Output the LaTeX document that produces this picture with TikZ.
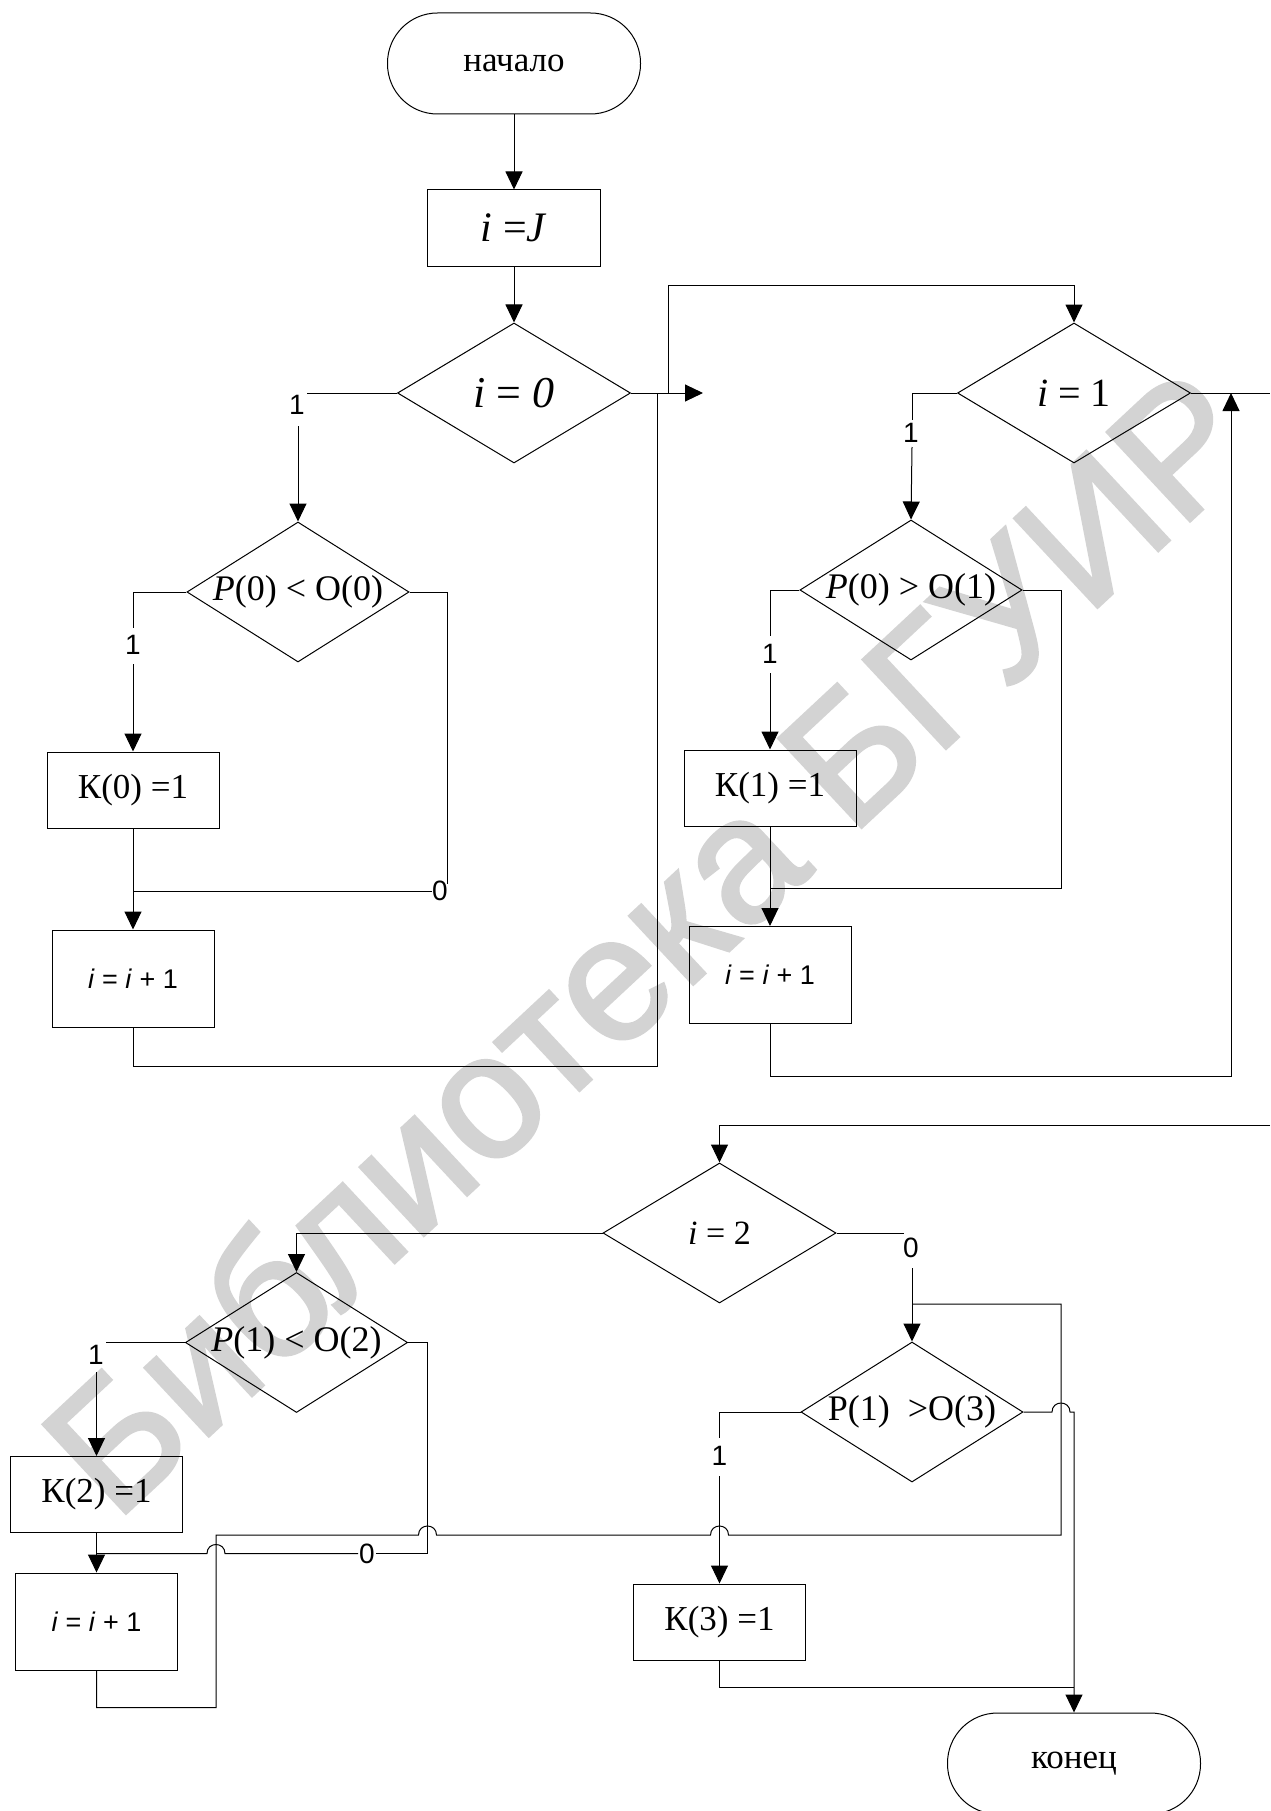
\documentclass[tikz,border=0pt]{standalone}
\usepackage{fontspec}
\setmainfont{Liberation Serif}
\newfontfamily\sansf{Liberation Sans}
\newfontfamily\wmfont[FakeBold=2]{Liberation Sans}
\usetikzlibrary{arrows.meta,shapes.geometric}
\definecolor{wmgray}{RGB}{211,211,211}
\begin{document}
\begin{tikzpicture}[x=1pt,y=-1pt,line width=1pt,
  flow/.style={-{Triangle[length=18pt,width=17pt]}},
  term/.style={draw,rounded corners=50pt,minimum width=253pt,minimum height=101pt,inner sep=0pt,font=\fontsize{35}{40}\selectfont},
  kbox/.style={draw,minimum width=172pt,minimum height=76pt,inner sep=0pt,font=\fontsize{35}{40}\selectfont},
  ibox/.style={draw,minimum width=162pt,minimum height=97pt,inner sep=0pt,font=\sansf\fontsize{27}{32}\selectfont},
  bigdia/.style={draw,diamond,aspect=1.66,minimum width=233pt,minimum height=140pt,inner sep=0pt},
  cdia/.style={draw,diamond,aspect=1.59,minimum width=222pt,minimum height=140pt,inner sep=0pt,font=\fontsize{36}{40}\selectfont},
  lbl/.style={font=\sansf\fontsize{28}{32}\selectfont,inner sep=0pt},
]
\useasboundingbox (0,0) rectangle (1270,1811);
% watermark
\node[font=\wmfont\fontsize{176}{190}\selectfont,text=wmgray,rotate=43,inner sep=0pt] (wm) at (647,940) {Библиотека БГУИР};

% nodes
\node[term] (start) at (514,63.5) {начало};
\node[draw,minimum width=173pt,minimum height=76pt,inner sep=0pt,font=\fontsize{42}{46}\selectfont] (setJ) at (514,228) {\textit{i} =\textit{J}};
\node[bigdia,font=\fontsize{44}{48}\selectfont] (d0) at (514,393) {\textit{i} = \textit{0}};
\node[cdia] (c0) at (298,592) {\textit{P}(0) < O(0)};
\node[kbox] (k0) at (133,790) {К(0) =1};
\node[ibox] (inc0) at (133,978.5) {\textit{i} = \textit{i} + 1};

\node[bigdia,font=\fontsize{40}{44}\selectfont] (d1) at (1074,393) {\textit{i} = 1};
\node[cdia] (c1) at (911,590) {\textit{P}(0) > O(1)};
\node[kbox] (k1) at (770,788) {К(1) =1};
\node[ibox] (inc1) at (770,975) {\textit{i} = \textit{i} + 1};

\node[bigdia,font=\fontsize{34}{38}\selectfont] (d2) at (719.5,1233) {\textit{i} = 2};
\node[cdia] (c2) at (296.5,1342.5) {\textit{P}(1) < O(2)};
\node[kbox] (k2) at (96.5,1494.5) {К(2) =1};
\node[ibox] (inc2) at (96.5,1621.5) {\textit{i} = \textit{i} + 1};
\node[cdia] (c3) at (912,1412) {P(1)\ \ >O(3)};
\node[kbox] (k3) at (719.5,1622) {К(3) =1};
\node[term] (fin) at (1074,1763.5) {конец};

% helper coordinates
\coordinate (a0) at (703,393);
\coordinate (j0) at (668,393);
\coordinate (j0r) at (657,393);
\coordinate (t1) at (1074,285);
\coordinate (g0a) at (307,393);
\coordinate (g0b) at (298,426);
\coordinate (g1a) at (133,628);
\coordinate (g1b) at (133,664);
\coordinate (g2a) at (447.5,884);
\coordinate (g2b) at (432,891);
\coordinate (m0) at (133,891);
\coordinate (g3a) at (912,420);
\coordinate (g3b) at (912,447);
\coordinate (g4a) at (770,636);
\coordinate (g4b) at (770,673);
\coordinate (m1) at (770,888.5);
\coordinate (r1) at (1231,393);
\coordinate (e1) at (1270,393);
\coordinate (e2) at (1270,1125);
\coordinate (g5a) at (106,1342.5);
\coordinate (g5b) at (96.5,1372);
\coordinate (g6a) at (376,1553.5);
\coordinate (g6b) at (358,1553.5);
\coordinate (m2) at (96.5,1553.5);
\coordinate (m3) at (912,1304);
\coordinate (g7a) at (903.5,1233);
\coordinate (g7b) at (912,1268);
\coordinate (g8a) at (719.5,1438);
\coordinate (g8b) at (719.5,1476);
\coordinate (m4) at (1074,1687.7);

% labels
\node[lbl] (l0) at (297,405) {1};
\node[lbl] (l1) at (133,645) {1};
\node[lbl] (l2) at (440,891) {0};
\node[lbl] (l3) at (911,433) {1};
\node[lbl] (l4) at (770,654) {1};
\node[lbl] (l5) at (96,1355) {1};
\node[lbl] (l6) at (367,1553.5) {0};
\node[lbl] (l7) at (911,1248) {0};
\node[lbl] (l8) at (719.5,1456) {1};

% top part
\draw[flow] (start) -- (setJ);
\draw[flow] (setJ) -- (d0);
\draw[flow] (d0.east) -- (a0);
\draw[flow] (j0) |- (t1) -- (d1.north);

% i=0 branch
\draw (d0.west) -- (g0a);
\draw[flow] (g0b) -- (c0.north);
\draw (c0.west) -| (g1a);
\draw[flow] (g1b) -- (k0.north);
\draw (c0.east) -| (g2a);
\draw (g2b) -- (m0);
\draw[flow] (k0) -- (inc0);
\draw (inc0.south) -- (133,1066) -| (j0r);

% i=1 branch
\draw (d1.west) -| (g3a);
\draw[flow] (g3b) -- (c1.north);
\draw (c1.west) -| (g4a);
\draw[flow] (g4b) -- (k1.north);
\draw (c1.east) -| (1061,888.5) -- (m1);
\draw[flow] (k1) -- (inc1);
\draw[flow] (inc1.south) -- (770,1076.5) -| (r1);
\draw (d1.east) -- (e1);

% bottom part
\draw[flow] (e2) -| (d2.north);
\draw[flow] (d2.west) -| (c2.north);
\draw (c2.west) -- (g5a);
\draw[flow] (g5b) -- (k2.north);
\draw (c2.east) -| (427.5,1553.5) -- (g6a);
\draw (g6b) -- (225,1553.5) .. controls (225,1541.5) and (207,1541.5) .. (207,1553.5) -- (m2);
\draw[flow] (k2) -- (inc2);
\draw (inc2.south) -- (96.5,1707.5) -- (216,1707.5) -- (216,1535) -- (418.5,1535)
  .. controls (418.5,1523) and (436.5,1523) .. (436.5,1535) -- (710.5,1535)
  .. controls (710.5,1523) and (728.5,1523) .. (728.5,1535) -- (1061,1535) -- (1061,1304) -- (m3);
\draw (d2.east) -- (g7a);
\draw[flow] (g7b) -- (c3.north);
\draw (c3.west) -| (g8a);
\draw[flow] (g8b) -- (k3.north);
\draw[flow] (c3.east) -- (1052,1412) .. controls (1052,1400) and (1070,1400) .. (1070,1412) -- (1074,1412) -- (fin.north);
\draw (k3.south) -- (719.5,1687.7) -- (m4);
\end{tikzpicture}
\end{document}
